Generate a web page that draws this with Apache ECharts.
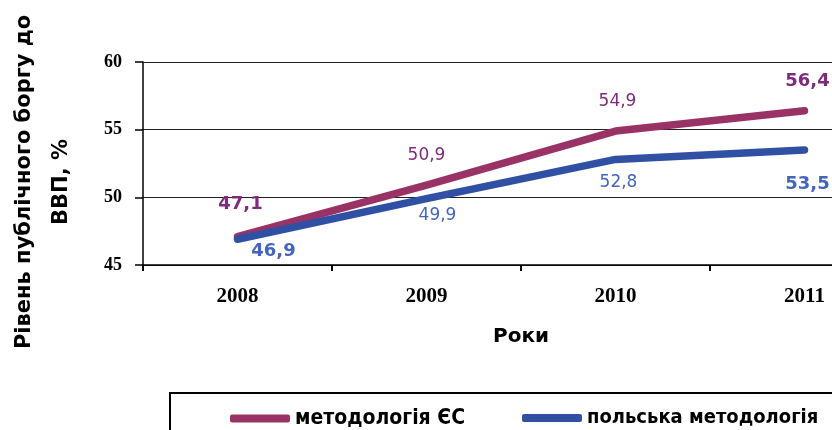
<!DOCTYPE html>
<html>
<head>
<meta charset="utf-8">
<script src="https://cdn.jsdelivr.net/npm/echarts@6/dist/echarts.min.js"></script>
<style>html,body{margin:0;padding:0;background:#fff}#c{width:832px;height:430px}</style>
</head>
<body>
<div id="c"></div>
<script>
const years = ['2008', '2009', '2010', '2011'];
const euValues = [47.1, 50.9, 54.9, 56.4];
const plValues = [46.9, 49.9, 52.8, 53.5];
const euName = 'методологія ЄС';
const plName = 'польська методологія';
const yTitle = 'Рівень публічного боргу до\nВВП, %';
const xTitle = 'Роки';
const yTicks = { min: 45, max: 60, interval: 5 };

// label styling (offsets from the point), kept apart from the data
const euLabelOffsets = [[3, -32], [0, -30], [2, -29], [3, -29]];
const plLabelOffsets = [[36, 12], [11, 17], [3, 23], [3, 34]];
const labelBold = [true, false, false, true];

const euLine = '#993366', plLine = '#3050a3';
const euText = '#7d2b7a', plText = '#4565bd';

function fmt(v) { return String(v).replace('.', ','); }
function items(vals, offs, color) {
  return vals.map((v, i) => ({
    value: v,
    label: {
      show: true, position: 'inside', offset: offs[i],
      formatter: fmt(v), color: color,
      fontFamily: 'DejaVu Sans', fontSize: labelBold[i] ? 18 : 17,
      fontWeight: labelBold[i] ? 'bold' : 'normal',
      align: 'center', verticalAlign: 'middle'
    }
  }));
}

function legendAt(left, name, color, size) {
  return {
    left: left, top: 403, itemWidth: 60, itemHeight: 8, icon: 'roundRect',
    textStyle: { fontFamily: 'DejaVu Sans Condensed', fontWeight: 'bold', fontSize: size, color: '#000' },
    data: [{ name: name, itemStyle: { color: color } }]
  };
}

const chart = echarts.init(document.getElementById('c'), null, { renderer: 'canvas' });
chart.setOption({
  animation: false,
  backgroundColor: '#fff',
  grid: { left: 143, top: 62, width: 756, height: 203, containLabel: false, outerBoundsMode: 'none' },
  graphic: [
    {
      type: 'rect', shape: { x: 170, y: 393, width: 720, height: 80 },
      style: { fill: 'none', stroke: '#000', lineWidth: 2 }, z: 0
    },
    {
      type: 'text', x: 43, y: 182, rotation: Math.PI / 2,
      style: {
        text: yTitle, fill: '#000', align: 'center', verticalAlign: 'middle',
        fontFamily: 'DejaVu Sans', fontWeight: 'bold', fontSize: 21, lineHeight: 37
      }
    }
  ],
  legend: [
    legendAt(225, euName, euLine, 21),
    legendAt(517, plName, plLine, 20)
  ],
  xAxis: {
    type: 'category', data: years, boundaryGap: true,
    name: xTitle, nameLocation: 'middle', nameGap: 62,
    nameTextStyle: { fontFamily: 'DejaVu Sans', fontWeight: 'bold', fontSize: 20, color: '#000' },
    axisLine: { lineStyle: { color: '#000', width: 1.5 } },
    axisTick: { show: true, length: 6, interval: 0, lineStyle: { color: '#000', width: 2 } },
    axisLabel: { margin: 21, fontFamily: 'Liberation Serif', fontWeight: 'bold', fontSize: 21, color: '#000' },
    splitLine: { show: false }
  },
  yAxis: {
    type: 'value', min: yTicks.min, max: yTicks.max, interval: yTicks.interval,
    axisLine: { show: true, lineStyle: { color: '#000', width: 1.5 } },
    axisTick: { show: true, length: 8, lineStyle: { color: '#000', width: 1.5 } },
    axisLabel: { margin: 21, fontFamily: 'Liberation Serif', fontWeight: 'bold', fontSize: 18, color: '#000' },
    splitLine: { show: true, lineStyle: { color: '#222', width: 1 } }
  },
  series: [
    {
      name: euName, type: 'line', data: items(euValues, euLabelOffsets, euText),
      symbol: 'circle', symbolSize: 0.01, showSymbol: true,
      itemStyle: { color: euLine },
      lineStyle: { color: euLine, width: 7.5, cap: 'round', join: 'round' },
      z: 2
    },
    {
      name: plName, type: 'line', data: items(plValues, plLabelOffsets, plText),
      symbol: 'circle', symbolSize: 0.01, showSymbol: true,
      itemStyle: { color: plLine },
      lineStyle: { color: plLine, width: 7.5, cap: 'round', join: 'round' },
      z: 3
    }
  ]
});
</script>
</body>
</html>
